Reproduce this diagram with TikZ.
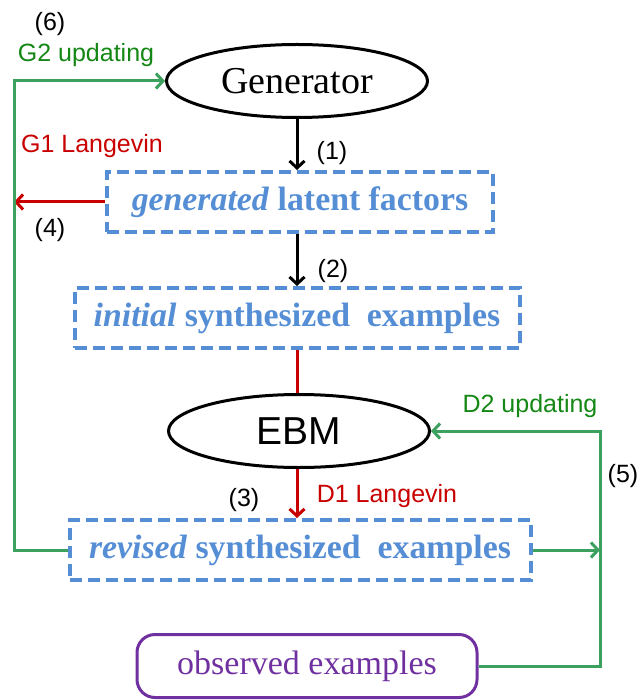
\documentclass[tikz,border=0pt]{standalone}
\usepackage{fontspec}
\setmainfont{Liberation Serif}
\setsansfont{Liberation Sans}
\usetikzlibrary{arrows.meta, shapes.geometric}
\definecolor{boxblue}{RGB}{85,142,213}
\definecolor{linegreen}{RGB}{60,160,95}
\definecolor{textgreen}{RGB}{20,135,20}
\definecolor{darkred}{RGB}{200,0,0}
\definecolor{obspurple}{RGB}{112,48,160}
\tikzset{model/.style = {shape = ellipse, draw, line width = 3pt, inner sep = 0pt, minimum width = 261pt, minimum height = 73pt}}
\tikzset{sample/.style = {shape = rectangle, draw = boxblue, dash pattern = on 12pt off 6pt, line width = 4pt, text = boxblue, inner sep = 0pt, minimum height = 60pt, font = \fontsize{33.8}{37}\selectfont\bfseries}}
\tikzset{data/.style = {shape = rectangle, rounded corners = 18pt, draw = obspurple, line width = 3pt, text = obspurple, inner sep = 0pt, minimum width = 340pt, minimum height = 63pt, font = \fontsize{34}{37}\selectfont}}
\tikzset{tag/.style = {font = \sffamily\fontsize{25}{27}\selectfont}}
\tikzset{flow/.style = {-{Straight Barb[length = 7pt, width = 15pt]}, line width = 3pt}}

\begin{document}
\begin{tikzpicture}[x = 1pt, y = -1pt]
	\useasboundingbox (0, 0) rectangle (642, 700);

	\node[model, font = \fontsize{38}{42}\selectfont] (gen) at (297, 81) {Generator};
	\node[sample, minimum width = 386pt] (latent) at (300, 202) {\textit{generated} latent factors};
	\node[sample, minimum width = 445pt] (init) at (297, 318) {\textit{initial} synthesized\ \ examples};
	\node[model, font = \sffamily\fontsize{39}{43}\selectfont] (ebm) at (299, 431) {EBM};
	\node[sample, minimum width = 461pt] (revised) at (300, 550) {\textit{revised} synthesized\ \ examples};
	\node[data] (obs) at (307, 666) {observed examples};

	\coordinate (gl) at (14, 81);
	\coordinate (gr) at (600, 431);

	\draw[flow] (gen.south) -- (gen.south |- latent.north);
	\draw[flow] (latent.south -| gen.south) -- (gen.south |- init.north);
	\draw[darkred, line width = 3pt] (init.south) -- (init.south |- ebm.north);
	\draw[flow, darkred] (ebm.south -| init.south) -- (init.south |- revised.north);
	\draw[flow, darkred] (latent.west) -- (latent.west -| gl);
	\draw[flow, linegreen] (revised.west) -| (gl) -- (gen.west);
	\draw[flow, linegreen] (revised.east) -- (revised.east -| gr);
	\draw[flow, linegreen] (obs.east) -| (gr) -- (ebm.east);

	\node[tag] (n1) at (332, 153) {(1)};
	\node[tag] (n2) at (333, 271) {(2)};
	\node[tag] (n3) at (244, 500) {(3)};
	\node[tag] (n4) at (50, 230) {(4)};
	\node[tag] (n5) at (623, 476) {(5)};
	\node[tag] (n6) at (50, 24) {(6)};
	\node[tag, anchor = base, textgreen] (g2) at (86, 62) {G2 updating};
	\node[tag, anchor = base, darkred] (g1) at (92, 153) {G1 Langevin};
	\node[tag, anchor = base, darkred] (d1) at (387, 502) {D1 Langevin};
	\node[tag, anchor = base, textgreen] (d2) at (530, 412) {D2 updating};
\end{tikzpicture}
\end{document}
